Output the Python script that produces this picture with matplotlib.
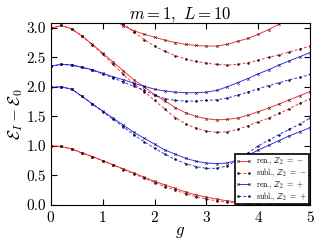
"""Energy gaps vs coupling g for m=1, L=10 (renormalized vs subleading)."""

import matplotlib

matplotlib.use("Agg")
import matplotlib.pyplot as plt
import numpy as np

plt.rcParams["font.family"] = "serif"
plt.rcParams["font.serif"] = ["cmr10", "DejaVu Serif"]
plt.rcParams["mathtext.fontset"] = "cm"
plt.rcParams["axes.formatter.use_mathtext"] = True

g = np.arange(0, 5.01, 0.2)

# Z2 = - sector
ren_minus = [
    [1.00, 0.99, 0.95, 0.88, 0.82, 0.75, 0.68, 0.61, 0.54, 0.47, 0.40, 0.34, 0.28,
     0.22, 0.17, 0.13, 0.10, 0.07, 0.05, 0.04, 0.03, 0.02, 0.015, 0.01, 0.01, 0.01],
    [2.99, 3.04, 2.98, 2.86, 2.72, 2.57, 2.42, 2.27, 2.12, 2.00, 1.87, 1.76, 1.65,
     1.56, 1.50, 1.46, 1.44, 1.45, 1.47, 1.52, 1.58, 1.64, 1.71, 1.78, 1.85, 1.92],
    [3.90, 3.80, 3.70, 3.55, 3.42, 3.28, 3.15, 3.03, 2.95, 2.89, 2.84, 2.79, 2.75,
     2.72, 2.70, 2.69, 2.69, 2.72, 2.77, 2.82, 2.89, 2.97, 3.06, 3.16, 3.26, 3.37],
]
subl_minus = [
    [1.00, 0.99, 0.95, 0.88, 0.82, 0.75, 0.68, 0.60, 0.53, 0.45, 0.38, 0.31, 0.25,
     0.19, 0.14, 0.10, 0.07, 0.05, 0.03, 0.02, 0.01, 0.01, 0.005, 0.0, 0.0, 0.0],
    [2.99, 3.04, 2.98, 2.86, 2.71, 2.55, 2.38, 2.21, 2.05, 1.92, 1.77, 1.62, 1.48,
     1.37, 1.30, 1.25, 1.23, 1.24, 1.28, 1.34, 1.41, 1.47, 1.55, 1.63, 1.72, 1.80],
    [4.20, 4.10, 3.95, 3.80, 3.60, 3.40, 3.22, 3.07, 2.93, 2.80, 2.69, 2.60, 2.53,
     2.47, 2.43, 2.40, 2.38, 2.37, 2.38, 2.41, 2.45, 2.50, 2.54, 2.59, 2.64, 2.69],
]
# Z2 = + sector
ren_plus = [
    [1.99, 2.00, 1.96, 1.84, 1.71, 1.59, 1.47, 1.35, 1.23, 1.13, 1.03, 0.93, 0.86,
     0.79, 0.74, 0.71, 0.70, 0.71, 0.76, 0.84, 0.93, 1.01, 1.09, 1.17, 1.24, 1.31],
    [2.35, 2.38, 2.37, 2.33, 2.29, 2.23, 2.17, 2.12, 2.06, 2.01, 1.96, 1.93, 1.91,
     1.90, 1.90, 1.91, 1.94, 2.00, 2.07, 2.14, 2.22, 2.29, 2.37, 2.44, 2.51, 2.58],
]
subl_plus = [
    [1.99, 2.00, 1.96, 1.84, 1.71, 1.58, 1.45, 1.32, 1.19, 1.07, 0.96, 0.86, 0.77,
     0.70, 0.65, 0.62, 0.62, 0.66, 0.76, 0.88, 1.00, 1.10, 1.19, 1.28, 1.37, 1.47],
    [2.35, 2.38, 2.37, 2.33, 2.28, 2.22, 2.15, 2.08, 2.01, 1.94, 1.86, 1.80, 1.77,
     1.76, 1.76, 1.77, 1.78, 1.81, 1.86, 1.91, 1.97, 2.02, 2.07, 2.12, 2.16, 2.21],
]

labels = [r"ren., $\mathbb{Z}_2\;=\;-$", r"subl., $\mathbb{Z}_2\;=\;-$",
          r"ren., $\mathbb{Z}_2\;=\;+$", r"subl., $\mathbb{Z}_2\;=\;+$"]

fig = plt.figure(figsize=(3.2, 2.4), dpi=100)
ax = fig.add_axes([0.159, 0.146, 0.81, 0.758])

groups = [
    (ren_minus, "#ff0000", "-", "x", labels[0]),
    (subl_minus, "#ff0000", "--", ".", labels[1]),
    (ren_plus, "#0000ff", "-", "x", labels[2]),
    (subl_plus, "#0000ff", "--", ".", labels[3]),
]
for curves, col, ls, mk, lab in groups:
    for i, y in enumerate(curves):
        ax.plot(g, y, color=col, linestyle=ls, linewidth=0.7, marker=mk,
                markersize=1.8 if mk == "x" else 2.6, markeredgecolor="k",
                markerfacecolor="k", markeredgewidth=0.5, alpha=0.8,
                dashes=(3, 2) if ls == "--" else (None, None),
                label=lab if i == 0 else None)

ax.set_xlim(0, 5)
ax.set_ylim(0, 3.08)
ax.set_xticks([0, 1, 2, 3, 4, 5])
ax.set_yticks([0, 0.5, 1.0, 1.5, 2.0, 2.5, 3.0])
ax.set_yticklabels(["0.0", "0.5", "1.0", "1.5", "2.0", "2.5", "3.0"])
ax.tick_params(direction="in", top=True, right=True, labelsize=11, length=4)
ax.set_xlabel(r"$g$", fontsize=12, labelpad=0)
ax.set_ylabel(r"$\mathcal{E}_I-\mathcal{E}_0$", fontsize=12, labelpad=1)
ax.set_title(r"$m=1,\ L=$10", fontsize=12, pad=3)

leg = ax.legend(loc="lower right", fontsize=5.6, numpoints=2, fancybox=False,
                borderaxespad=0.1, handlelength=2.0, handletextpad=0.6,
                labelspacing=-0.05, borderpad=0.2)
leg.get_frame().set_edgecolor("k")
leg.get_frame().set_linewidth(1.2)
leg.get_frame().set_alpha(1.0)

fig.savefig("out.png", dpi=100)
